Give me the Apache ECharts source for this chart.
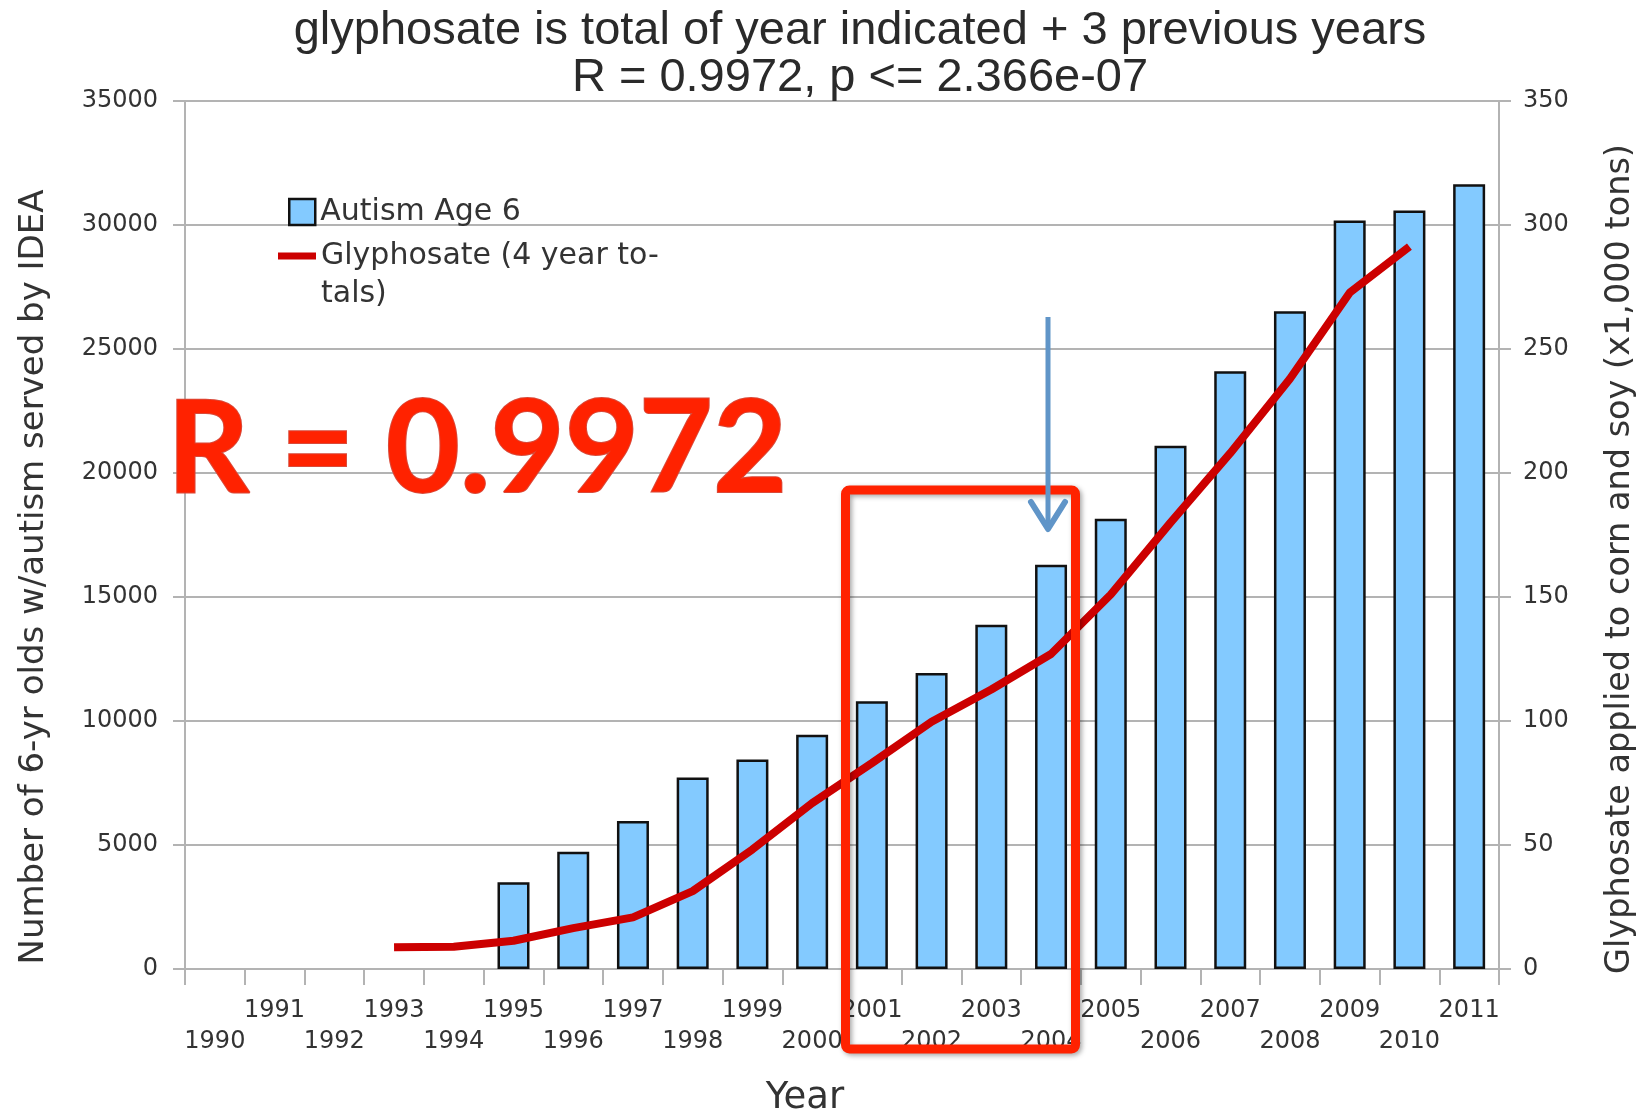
<!DOCTYPE html>
<html><head><meta charset="utf-8">
<script src="https://cdn.jsdelivr.net/npm/echarts@6/dist/echarts.min.js"></script>
<style>html,body{margin:0;padding:0;background:#fff}#c{width:1646px;height:1110px}</style>
</head><body><div id="c"></div>
<script>
const years = ['1990','1991','1992','1993','1994','1995','1996','1997','1998','1999','2000','2001','2002','2003','2004','2005','2006','2007','2008','2009','2010','2011'];
const autismAge6 = [null,null,null,null,null,3500,4730,5970,7720,8450,9450,10800,11940,13880,16300,18160,21100,24100,26520,30180,30580,31640];
const glyphosate4yr = [null,null,null,8.8,9,11.4,16.5,20.8,31.4,48.2,66.9,83,99.7,112.7,127,151,180,208,238,272.7,291.3,null];
const titleLines = ['glyphosate is total of year indicated + 3 previous years','R = 0.9972, p <= 2.366e-07'];
const leftAxisName = 'Number of 6-yr olds w/autism served by IDEA';
const rightAxisName = 'Glyphosate applied to corn and soy (x1,000 tons)';
const xAxisName = 'Year';
const barName = 'Autism Age 6';
const lineName = 'Glyphosate (4 year totals)';
const lineLegendLabel = ['Glyphosate (4 year to-','tals)'];
const bigText = 'R = 0.9972';

const chart = echarts.init(document.getElementById('c'), null, {renderer:'canvas'});
const gray = '#b3b3b3';
const txt = '#333333';
const font = 'DejaVu Sans';
chart.setOption({
  backgroundColor:'#ffffff',
  animation:false,
  title:{text:titleLines.join('\n'), left:855, top:3, textAlign:'center',
    textStyle:{fontFamily:'Liberation Sans', fontSize:47, fontWeight:'normal', color:'#2a2a2a', lineHeight:47}},
  grid:{left:185, right:147, top:101, bottom:141, containLabel:false, outerBoundsMode:'none'},
  legend:[
    {data:[{name:barName, icon:'rect', itemStyle:{borderColor:'#111', borderWidth:2.5}}], left:288, top:197, padding:0, orient:'vertical', itemWidth:26, itemHeight:26,
      textStyle:{fontFamily:font, fontSize:30, color:txt}},
    {data:[{name:lineName, icon:'rect'}], left:278, top:199, padding:0, orient:'vertical', itemWidth:38, itemHeight:7,
      formatter:()=>'\n'+lineLegendLabel.join('\n'),
      textStyle:{fontFamily:font, fontSize:30, color:txt, lineHeight:38}}
  ],
  xAxis:{type:'category', data:years, name:xAxisName, nameLocation:'middle', nameGap:111,
    nameTextStyle:{fontFamily:font, fontSize:37, color:txt, padding:[0,74,0,0]},
    boundaryGap:true,
    axisLine:{lineStyle:{color:gray, width:2}},
    axisTick:{show:true, length:16, lineStyle:{color:gray, width:2}, alignWithLabel:false},
    axisLabel:{interval:0, margin:26, fontFamily:font, fontSize:24, color:txt, lineHeight:31,
      formatter:v=>(+v % 2 === 0 ? '\n'+v : v)}},
  yAxis:[
    {type:'value', min:0, max:35000, interval:5000, position:'left',
      name:leftAxisName, nameLocation:'middle', nameRotate:90, nameGap:134,
      nameTextStyle:{fontFamily:font, fontSize:34, color:txt, padding:[0,84,0,0]},
      axisLine:{show:true, lineStyle:{color:gray, width:2}},
      axisTick:{show:true, length:12, lineStyle:{color:gray, width:2}},
      axisLabel:{margin:27, fontFamily:font, fontSize:24, color:txt, formatter:v=>String(v)},
      splitLine:{lineStyle:{color:gray, width:2}}},
    {type:'value', min:0, max:350, interval:50, position:'right',
      name:rightAxisName, nameLocation:'middle', nameRotate:90, nameGap:104,
      nameTextStyle:{fontFamily:font, fontSize:33.5, color:txt, padding:[0,48,0,0]},
      axisLine:{show:true, lineStyle:{color:gray, width:2}},
      axisTick:{show:true, length:12, lineStyle:{color:gray, width:2}},
      axisLabel:{margin:24, fontFamily:font, fontSize:24, color:txt, formatter:v=>String(v)},
      splitLine:{show:false}}
  ],
  series:[
    {name:barName, type:'bar', data:autismAge6, barWidth:32, yAxisIndex:0,
      itemStyle:{color:'#83caff', borderColor:'#111111', borderWidth:2.5}},
    {name:lineName, type:'line', data:glyphosate4yr, yAxisIndex:1, showSymbol:false, symbol:'none',
      lineStyle:{color:'#cc0000', width:8}, itemStyle:{color:'#cc0000'}, z:5}
  ],
  graphic:[
    {type:'text', left:166, top:386, z:20,
      style:{text:bigText, fontFamily:'Lato', fontWeight:'bold', fontSize:128, fill:'#ff2200',
        stroke:'#d94a3a', lineWidth:2, shadowColor:'rgba(0,0,0,0.45)', shadowBlur:6, shadowOffsetX:2, shadowOffsetY:3}},
    {type:'rect', z:20, shape:{x:845.5, y:490, width:230, height:559, r:4},
      style:{fill:null, stroke:'#ff2200', lineWidth:9, shadowColor:'rgba(0,0,0,0.35)', shadowBlur:5, shadowOffsetX:2, shadowOffsetY:2}},
    {type:'line', z:21, shape:{x1:1048, y1:317, x2:1048, y2:527},
      style:{stroke:'#6095c8', lineWidth:5}},
    {type:'polyline', z:21, shape:{points:[[1031,502],[1048,529],[1065,502]]},
      style:{stroke:'#6095c8', lineWidth:6, fill:null, lineJoin:'round', lineCap:'round'}}
  ]
});
</script></body></html>
